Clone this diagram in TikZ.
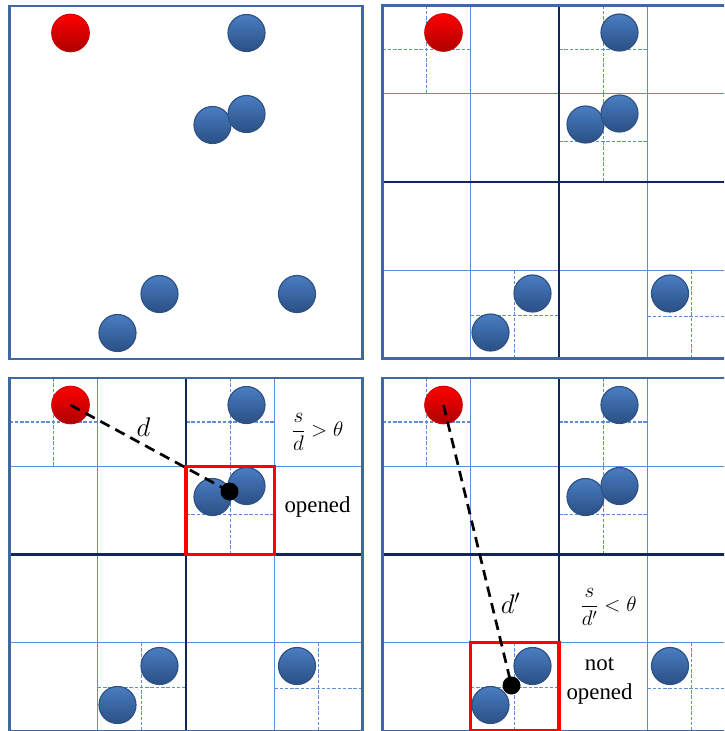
\documentclass[tikz,border=0pt]{standalone}
\usepackage{fix-cm}
\usepackage{fontspec}
\setmainfont{Liberation Serif}
\usetikzlibrary{calc}

\definecolor{framecol}{HTML}{3F69A2}
\definecolor{quadcol}{HTML}{10275E}
\definecolor{cellcol}{HTML}{5F8FD3}
\definecolor{balltop}{HTML}{4A7DC2}
\definecolor{ballbot}{HTML}{2A4F84}
\definecolor{ballrim}{HTML}{2E5183}

\tikzset{
  panelframe/.style={draw=framecol, line width=2.4pt},
  quadline/.style={draw=quadcol, line width=2.4pt},
  cellline/.style={draw=cellcol, line width=1.2pt},
  subline/.style={draw=cellcol, line width=1pt, dash pattern=on 3pt off 1.5pt},
  body/.style={circle, minimum size=1.11cm, inner sep=0pt, line width=1pt,
    draw=ballrim, top color=balltop, bottom color=ballbot},
  probe/.style={circle, minimum size=1.13cm, inner sep=0pt, line width=0.8pt,
    draw=red!80!black, top color=red, bottom color=red!68!black},
  cmass/.style={circle, fill=black, minimum size=0.54cm, inner sep=0pt},
  openbox/.style={draw=red, line width=2.6pt},
  distline/.style={draw=black, line width=2.3pt, dash pattern=on 9pt off 5.5pt},
  lbl/.style={font=\fontsize{19.5}{24}\selectfont, inner sep=0pt, align=center},
  dlbl/.style={font=\fontsize{23}{26}\selectfont, inner sep=0pt},
  ratio/.style={font=\fontsize{18}{21}\selectfont, inner sep=0pt},
}

% the seven particles, same place in every panel
\newcommand\particles[1]{%
  \node[probe] (#1-red) at (61,27) {};
  \node[body] (#1-b1) at (237,27) {};
  \node[body] (#1-b3) at (203,119) {};
  \node[body] (#1-b2) at (237,108) {};
  \node[body] (#1-b4) at (150,288) {};
  \node[body] (#1-b5) at (108,327) {};
  \node[body] (#1-b6) at (287.5,288) {};
}

% quadtree cells of a panel
\newcommand\quadgrid{%
  \foreach \t in {88.25,264.75} {
    \draw[cellline] (\t,0) -- (\t,353);
    \draw[cellline] (0,\t) -- (353,\t);
  }
  \foreach \i/\j/\hy in {0/0/44,2/0/44,2/1/48,1/3/45,3/3/46} {
    \draw[subline] ({88.25*\i+44.125},{88.25*\j}) -- ++(0,88.25);
    \draw[subline] ({88.25*\i},{88.25*\j+\hy}) -- ++(88.25,0);
  }
  \draw[quadline] (176.5,0) -- (176.5,353) (0,176.5) -- (353,176.5);
  \draw[panelframe] (0,0) rectangle (353,353);
}

\begin{document}
\begin{tikzpicture}[x=0.03cm, y=-0.03cm]
\useasboundingbox (0,0) rectangle (724,731);
\clip (0,0) rectangle (724,731);

% top left: particles only
\begin{scope}[shift={(9.5,6)}]
  \draw[panelframe] (0,0) rectangle (353,353);
  \particles{A}
\end{scope}

% top right: the tree
\begin{scope}[shift={(382.5,5.5)}]
  \quadgrid
  \particles{B}
\end{scope}

% bottom left: cell opened
\begin{scope}[shift={(9.5,378)}]
  \quadgrid
  \particles{C}
  \draw[openbox] (176.5,88.25) rectangle (264.75,176.5);
  \node[cmass] (C-com) at ($(C-b2)!0.5!(C-b3)$) {};
  \draw[distline] (C-red.center) -- (C-com.center);
  \node[dlbl] (C-d) at (134,49) {$d$};
  \node[ratio] (C-ratio) at (308,54) {$\displaystyle\frac{s}{d}>\theta$};
  \node[lbl] (C-open) at (308,129) {opened};
\end{scope}

% bottom right: cell not opened
\begin{scope}[shift={(382.5,378)}]
  \quadgrid
  \particles{D}
  \draw[openbox] (88.25,264.75) rectangle (176.5,353);
  \node[cmass] (D-com) at ($(D-b4)!0.5!(D-b5)$) {};
  \draw[distline] (D-red.center) -- (D-com.center);
  \node[dlbl] (D-d) at (128,225) {$d'$};
  \node[ratio] (D-ratio) at (226,229) {$\displaystyle\frac{s}{d'}<\theta$};
  \node[lbl] (D-open) at (217,303) {not\\opened};
\end{scope}
\end{tikzpicture}
\end{document}
